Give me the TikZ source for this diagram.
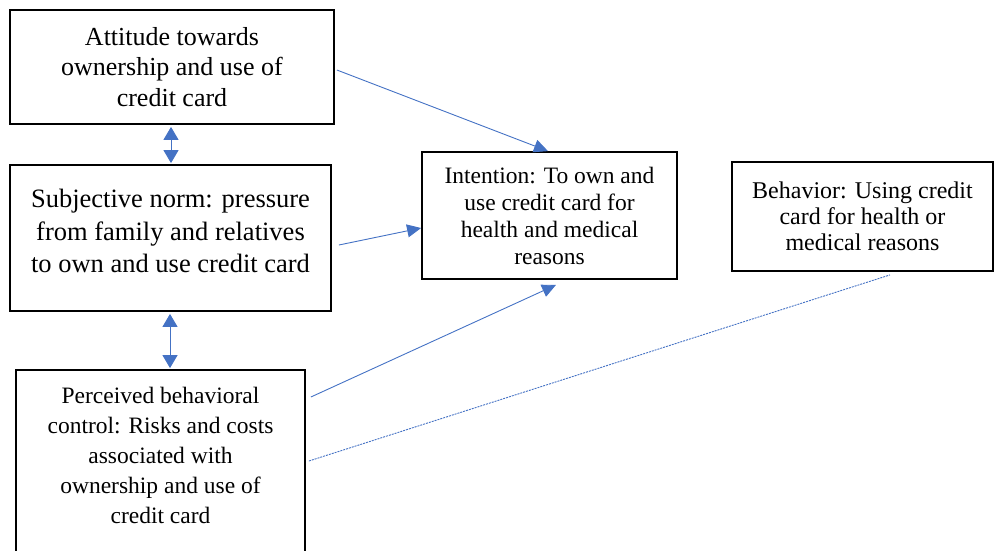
\documentclass[tikz,border=0pt]{standalone}
\usepackage{fontspec}
\setmainfont{Liberation Serif}
\usetikzlibrary{arrows.meta}
\definecolor{linkblue}{HTML}{4472C4}

\begin{document}
\begin{tikzpicture}[x=1pt,y=-1pt,
		box/.style={draw,line width=1.8pt,align=center,inner sep=0pt},
		link/.style={draw=linkblue,line width=0.9pt,-{Triangle[width=13pt,length=14pt]}},
		both/.style={draw=linkblue,line width=1pt,{Triangle[width=15pt,length=13pt]}-{Triangle[width=15pt,length=13pt]}}]
				\useasboundingbox (0,0) rectangle (995,550);
				\clip (0,0) rectangle (995,550);
				
				\node[box,minimum width=324pt,minimum height=114pt,font=\fontsize{26}{30.5}\selectfont] (att) at (172,67)
					{Attitude towards\\ownership and use of\\credit card};
				\node[box,minimum width=321pt,minimum height=146pt,
					label={[align=center,yshift=7pt,font=\fontsize{26.5}{32.5}\selectfont]center:Subjective norm: pressure\\from family and relatives\\to own and use credit card}] (norm) at (170.5,238) {};
				\node[box,minimum width=289pt,minimum height=182pt,
					label={[align=center,yshift=6pt,font=\fontsize{23.5}{30}\selectfont]center:Perceived behavioral\\control: Risks and costs\\associated with\\ownership and use of\\credit card}] (pbc) at (160.5,461) {};
				\node[box,minimum width=255pt,minimum height=127pt,font=\fontsize{23.5}{27}\selectfont] (int) at (549.5,215.5)
					{Intention: To own and\\use credit card for\\health and medical\\reasons};
				\node[box,minimum width=261pt,minimum height=109pt,font=\fontsize{24}{26}\selectfont] (beh) at (862.5,216.5)
					{Behavior: Using credit\\card for health or\\medical reasons};
				
				% influences on intention
				\draw[link] ([xshift=2pt,yshift=-3pt]att.east) -- ([xshift=-1.5pt]int.north);
				\draw[link] ([xshift=7pt,yshift=-7pt]norm.east) -- ([yshift=-12.5pt]int.west);
				\draw[link] ([xshift=5pt,yshift=64pt]pbc.east) -- ([xshift=6.5pt,yshift=-5pt]int.south);
				\draw[linkblue,line width=0.9pt,dash pattern=on 2pt off 1pt] ([xshift=3pt]pbc.east) -- ([xshift=27.5pt,yshift=-3pt]beh.south);
				
				% correlations
				\draw[both] ([xshift=-1pt,yshift=-2pt]att.south) -- ([xshift=0.5pt,yshift=1pt]norm.north);
				\draw[both] ([xshift=-0.5pt,yshift=-2pt]norm.south) -- ([xshift=9.5pt,yshift=1pt]pbc.north);
			\end{tikzpicture}
\end{document}
